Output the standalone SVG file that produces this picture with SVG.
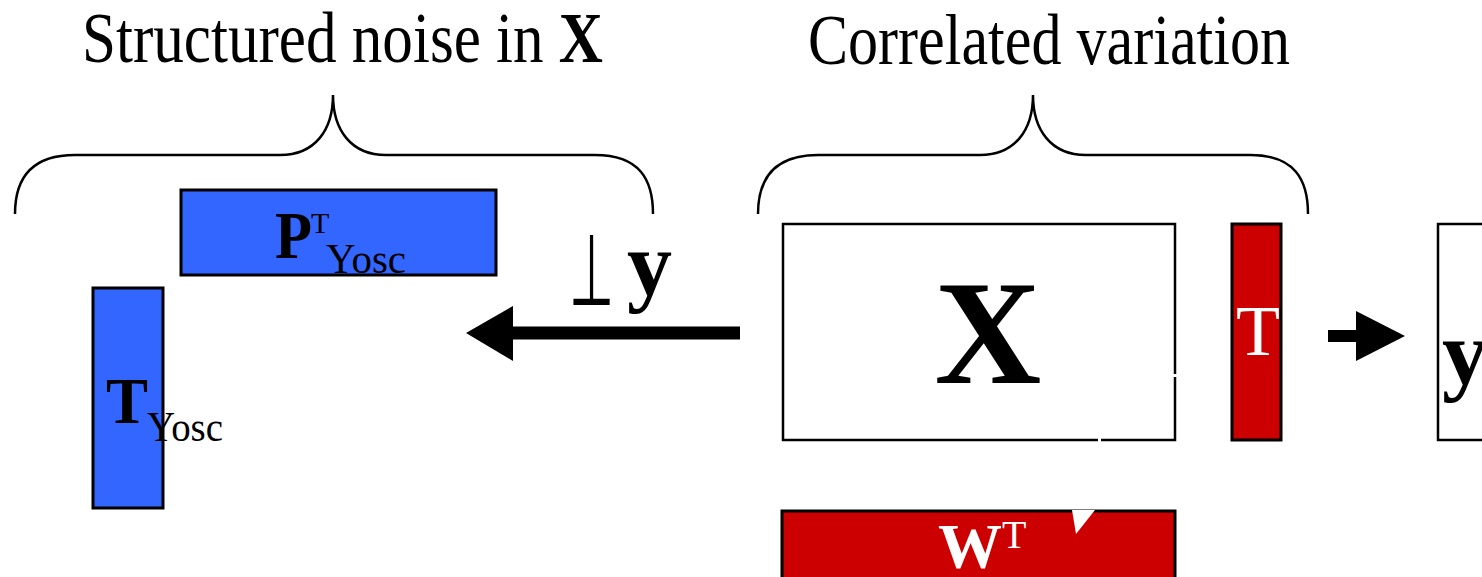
<svg xmlns="http://www.w3.org/2000/svg" width="1482" height="577" viewBox="0 0 1482 577">
<style>
.t{font-family:"Liberation Serif","DejaVu Serif",serif;fill:#000}
.b{font-weight:bold}
.brace{fill:none;stroke:#000;stroke-width:2.5}
.blue{fill:#3366FF;stroke:#000;stroke-width:3}
.red{fill:#CC0000;stroke:#000;stroke-width:3}
.white{fill:#fff;stroke:#000;stroke-width:2.5}
.w{fill:#fff}
</style>
<g id="labels">
<text class="t" x="82" y="62" font-size="72" textLength="521" lengthAdjust="spacingAndGlyphs">Structured noise in <tspan class="b">X</tspan></text>
<text class="t" x="808" y="64" font-size="72" textLength="482" lengthAdjust="spacingAndGlyphs">Correlated variation</text>
</g>
<g id="braces">
<path class="brace" d="M15,214 C15,180 30,155 75,155 L280,155 C315,155 333,130 333,95 C333,130 351,155 386,155 L595,155 C640,155 653,180 653,214"/>
<path class="brace" d="M758,214 C758,180 773,155 818,155 L980,155 C1015,155 1033,130 1033,95 C1033,130 1051,155 1086,155 L1250,155 C1295,155 1308,180 1308,214"/>
</g>
<g id="P_Yosc">
<rect class="blue" x="181" y="190" width="315" height="85"/>
<text class="t b" x="275" y="258" font-size="67" textLength="37" lengthAdjust="spacingAndGlyphs">P</text>
<text class="t" x="311" y="233" font-size="30">T</text>
<text class="t" x="326" y="273" font-size="42" textLength="80" lengthAdjust="spacingAndGlyphs">Yosc</text>
</g>
<g id="T_Yosc">
<rect class="blue" x="93" y="288" width="70" height="220"/>
<text class="t b" x="106" y="423" font-size="66" textLength="42" lengthAdjust="spacingAndGlyphs">T</text>
<text class="t" x="147" y="441" font-size="42" textLength="76" lengthAdjust="spacingAndGlyphs">Yosc</text>
</g>
<g id="X">
<rect class="white" x="783" y="224" width="392" height="216"/>
<text class="t b" x="988" y="383" font-size="148" text-anchor="middle">X</text>
<rect class="w" x="1170" y="374" width="7" height="3"/>
<rect class="w" x="1098" y="436" width="3" height="7"/>
</g>
<g id="T">
<rect class="red" x="1232" y="224" width="49" height="216"/>
<text class="t" x="1236" y="355" font-size="72" style="fill:#fff">T</text>
</g>
<g id="y">
<rect class="white" x="1438" y="224" width="60" height="216"/>
<text class="t b" x="1442" y="384" font-size="92">y</text>
</g>
<g id="WT">
<rect class="red" x="782" y="511" width="393" height="80"/>
<text class="t b" x="938" y="568" font-size="64" style="fill:#fff">W</text>
<text class="t" x="1002" y="548" font-size="40" style="fill:#fff">T</text>
<polygon class="w" points="1072,510 1095,510 1076,534"/>
</g>
<g id="connectors">
<line x1="740" y1="333" x2="508" y2="333" stroke="#000" stroke-width="13"/>
<polygon points="466,333 513,306 513,361" fill="#000"/>
<text x="569" y="305" font-size="100" font-family="DejaVu Sans, sans-serif" font-weight="200" textLength="45" lengthAdjust="spacingAndGlyphs">⊥</text>
<text class="t b" x="627" y="295" font-size="90">y</text>
<line x1="1328" y1="336" x2="1356" y2="336" stroke="#000" stroke-width="12"/>
<polygon points="1405,336 1356,311 1356,361" fill="#000"/>
</g>
</svg>
